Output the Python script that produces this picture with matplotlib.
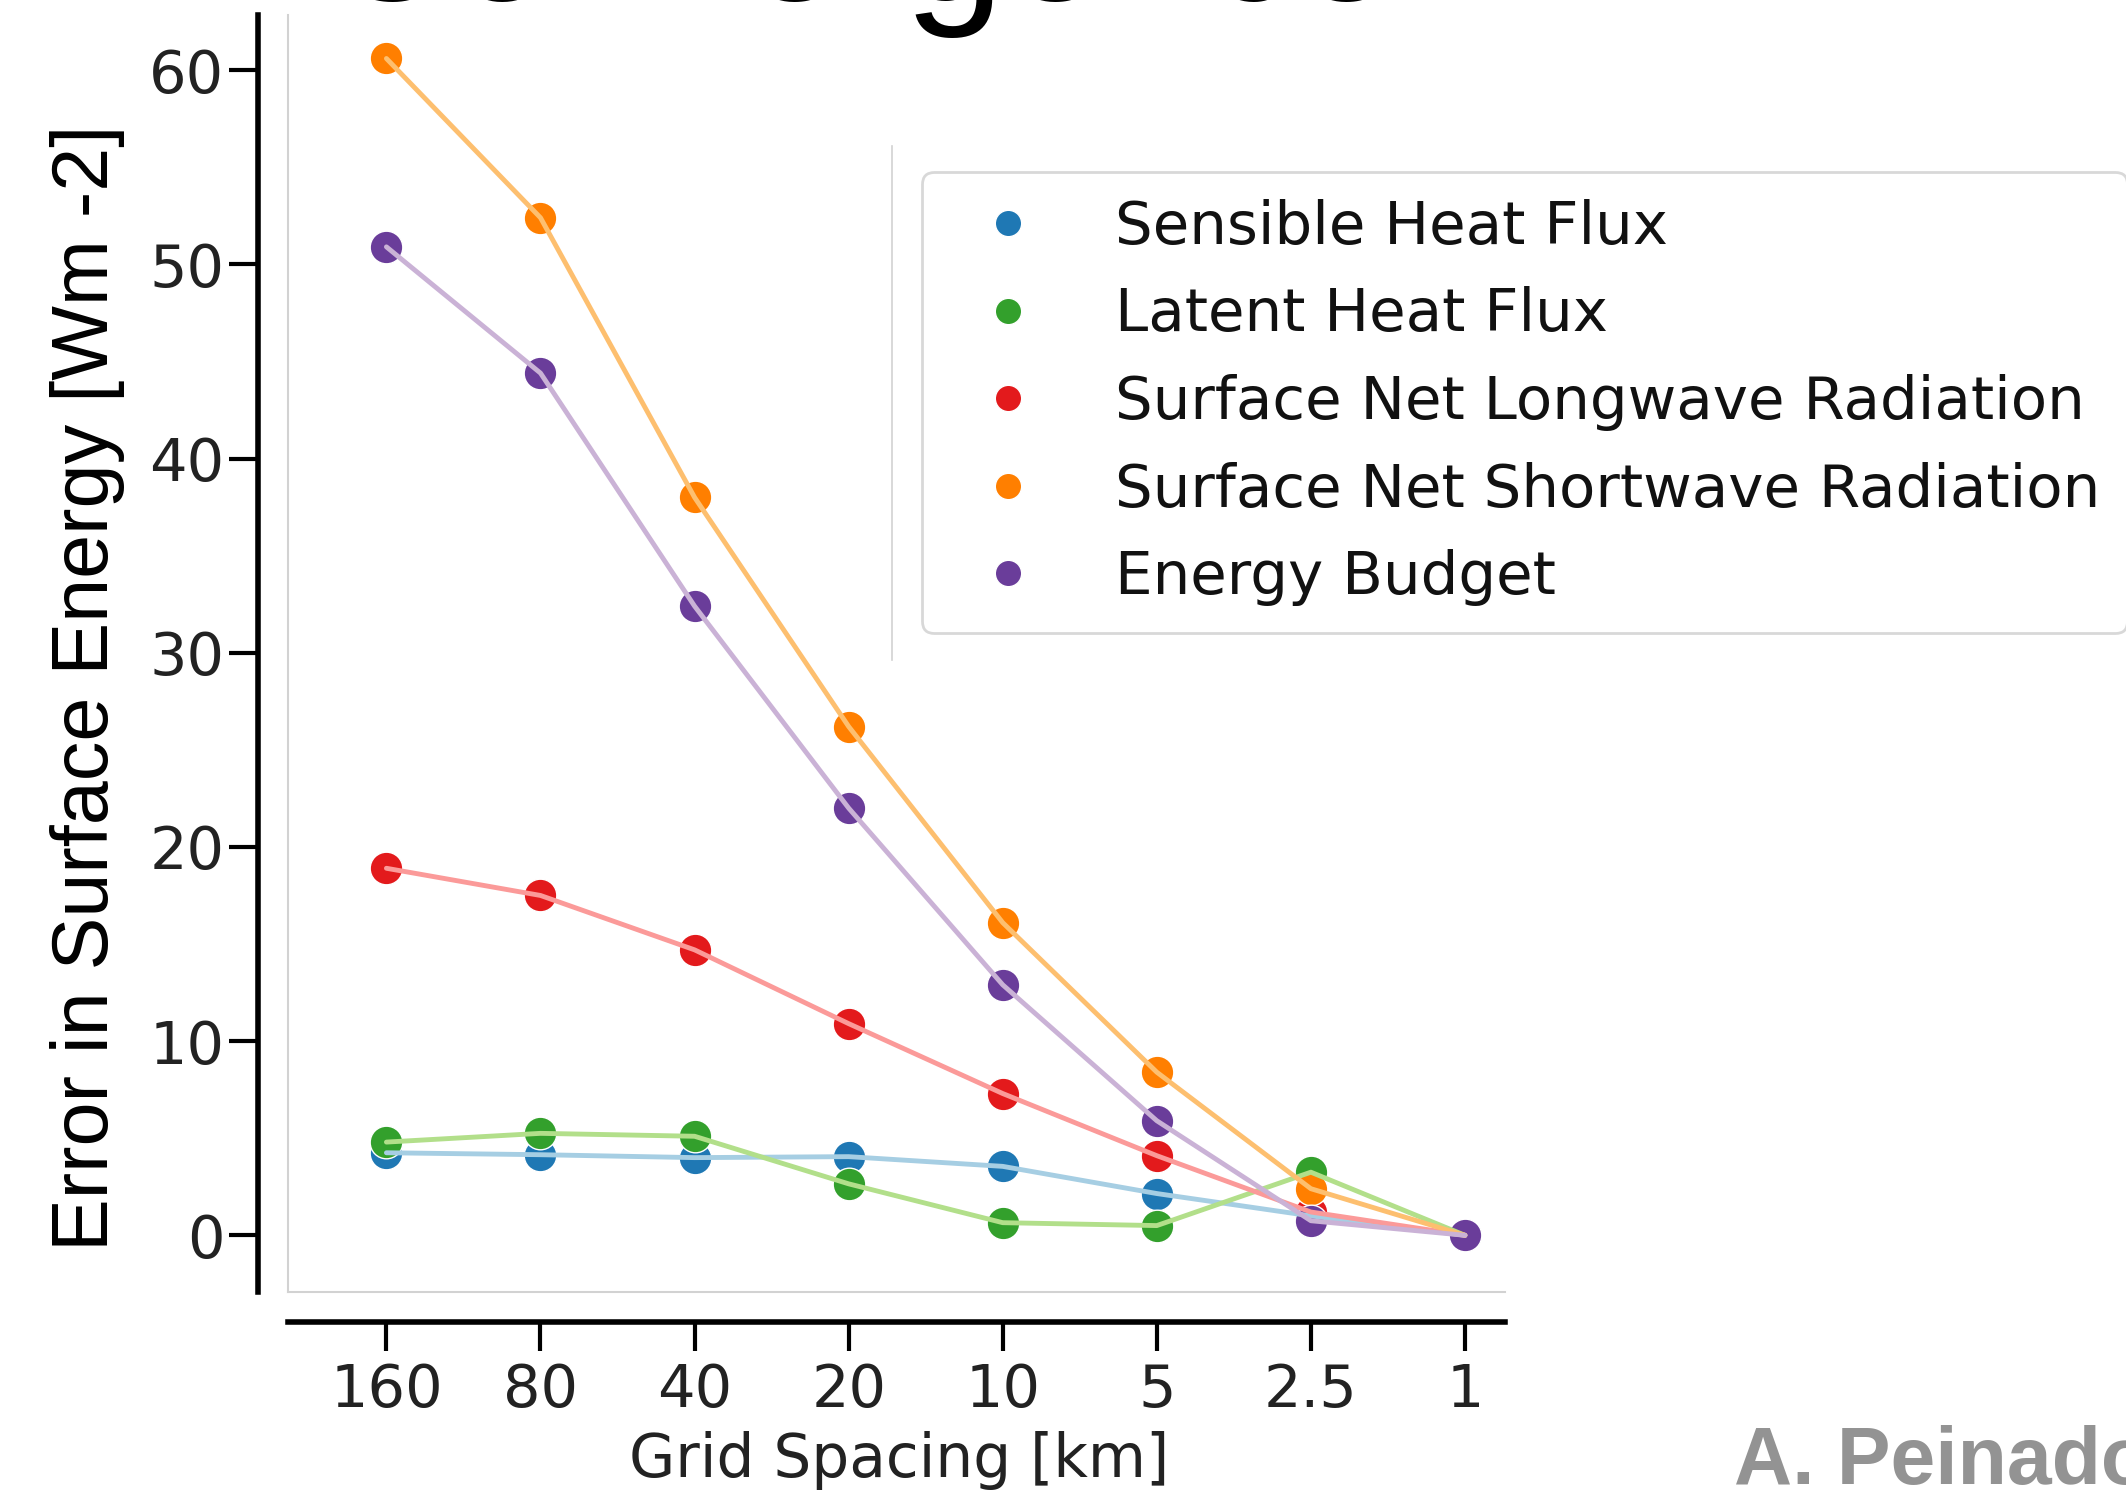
import matplotlib
matplotlib.use("Agg")
import matplotlib.pyplot as plt
from matplotlib.lines import Line2D

# grid spacing categories (km), coarse -> fine
spacing_labels = ["160", "80", "40", "20", "10", "5", "2.5", "1"]

# error in surface energy [W m-2] per series
sensible = [4.25, 4.15, 4.0, 4.05, 3.55, 2.15, 1.0, 0.0]
latent = [4.8, 5.25, 5.1, 2.65, 0.65, 0.5, 3.25, 0.0]
longwave = [18.9, 17.5, 14.7, 10.9, 7.3, 4.1, 1.2, 0.0]
shortwave = [60.6, 52.4, 38.0, 26.2, 16.1, 8.4, 2.4, 0.0]
budget = [50.9, 44.4, 32.4, 22.0, 12.9, 5.9, 0.75, 0.0]

series_names = ["Sensible Heat Flux", "Latent Heat Flux",
                "Surface Net Longwave Radiation", "Surface Net Shortwave Radiation",
                "Energy Budget"]
series_vals = [sensible, latent, longwave, shortwave, budget]
dark = ["#1f78b4", "#33a02c", "#e31a1c", "#ff7f00", "#6a3d9a"]
light = ["#a6cee3", "#b2df8a", "#fb9a99", "#fdbf6f", "#cab2d6"]

W, H = 2126, 1497
fig = plt.figure(figsize=(W / 100, H / 100), dpi=100)

# axes box in pixels (left, right, bottom, top from image top)
ax_l, ax_r, ax_b, ax_t = 287.5, 1505, 1292, 15
ax = fig.add_axes([ax_l / W, 1 - ax_b / H, (ax_r - ax_l) / W, (ax_b - ax_t) / H])

x = list(range(len(spacing_labels)))
# markers first, the pale lines run over them
for vals, dc in zip(series_vals, dark):
    ax.plot(x, vals, ls="none", marker="o", ms=23.5, color=dc,
            mec="white", mew=1, zorder=2)
for vals, lc in zip(series_vals, light):
    ax.plot(x, vals, color=lc, lw=3.5, zorder=3, solid_capstyle="round")

ax.set_xlim(-0.642, 7.26)
ax.set_ylim(-2.92, 62.84)
ax.set_xticks(x)
ax.set_xticklabels(spacing_labels)
ax.set_yticks([0, 10, 20, 30, 40, 50, 60])

for s in ["top", "right"]:
    ax.spines[s].set_visible(False)
for s in ["left", "bottom"]:
    ax.spines[s].set_position(("outward", 21.6))
    ax.spines[s].set_linewidth(4)
    ax.spines[s].set_color("black")

ax.tick_params(axis="both", length=21, width=3, color="black",
               labelsize=42.5, labelcolor="#222222")
ax.tick_params(axis="x", pad=8)
ax.tick_params(axis="y", pad=3)

# faint frame edges left over from the slide image
ax.plot([0, 0], [0, 1], transform=ax.transAxes, color="#d2d2d2", lw=1.5, clip_on=False)
ax.plot([0, 1], [0, 0], transform=ax.transAxes, color="#d2d2d2", lw=1.5, clip_on=False)
fig.add_artist(Line2D([892 / W, 892 / W], [1 - 146 / H, 1 - 660 / H],
                      color="#d2d2d2", lw=1.2))

ax.set_xlabel("Grid Spacing [km]", fontsize=43, color="#222222")
ax.xaxis.set_label_coords(0.502, (ax_b - 1477) / (ax_b - ax_t))
ax.xaxis.label.set_va("baseline")

fig.text(88 / W, 1 - 688 / H, "Error in Surface Energy [Wm -2]",
         rotation=90, ha="center", va="center",
         family="Liberation Sans", fontsize=57, color="black")

handles = [Line2D([], [], ls="none", marker="o", ms=19, color=c, mec="white", mew=1)
           for c in dark]
leg = ax.legend(handles, series_names, loc="upper left",
                bbox_to_anchor=(922 / W, 1 - 172 / H), bbox_transform=fig.transFigure,
                fontsize=42.8, frameon=True, fancybox=True, borderpad=0.45,
                handlelength=2.0, handletextpad=0.8, labelspacing=0.515,
                borderaxespad=0)
leg.get_frame().set_edgecolor("#cfcfcf")
leg.get_frame().set_linewidth(2)
for t in leg.get_texts():
    t.set_color("#111111")

# slide title, mostly cut off at the top
fig.text(323 / W, 1.0, "Convergence", fontsize=130, family="Liberation Sans",
         ha="left", va="baseline", color="black")

fig.text(1734 / W, 1 - 1484 / H, "A. Peinado", fontsize=58, family="Liberation Sans",
         weight="bold", color="#939393", ha="left", va="baseline")

fig.savefig("out.png", dpi=100)
